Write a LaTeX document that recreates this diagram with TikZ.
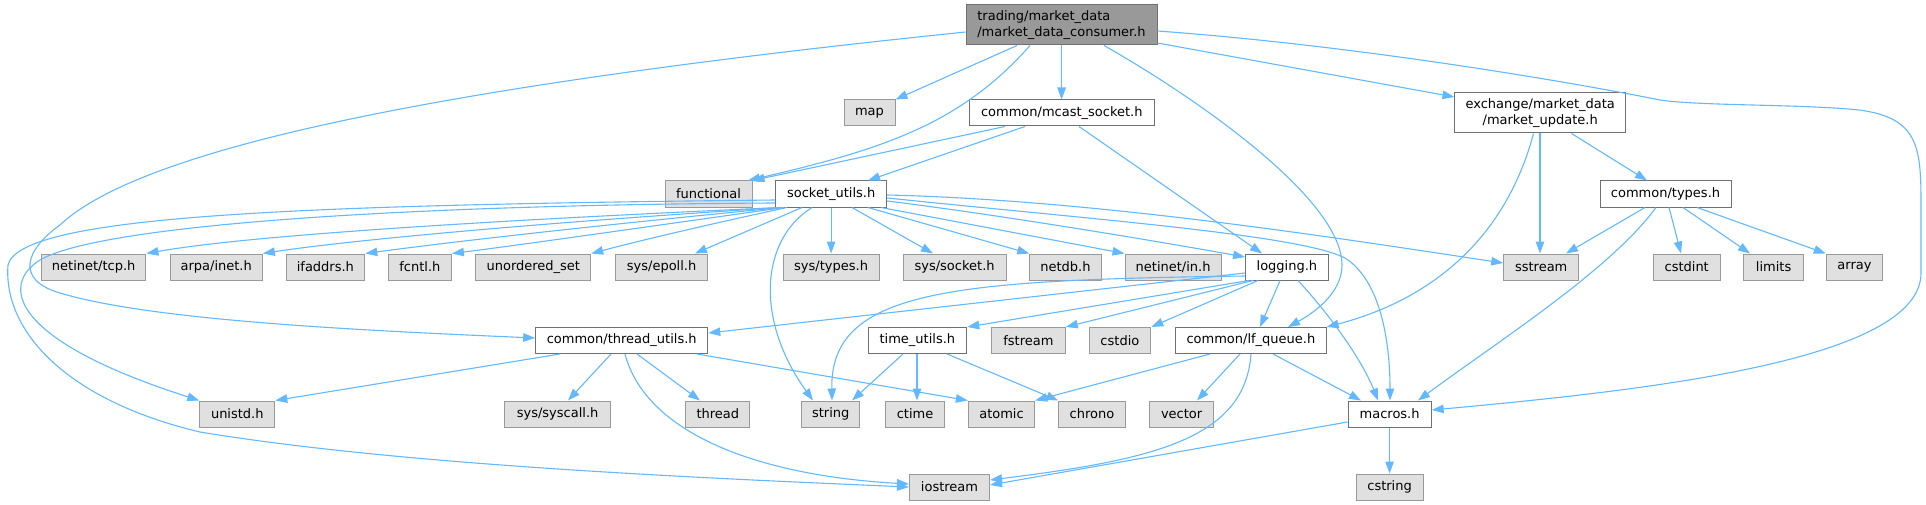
\documentclass[tikz,border=0pt]{standalone}
\usepackage{fontspec}
\setmainfont{DejaVu Sans}
\usetikzlibrary{arrows.meta}
\definecolor{edgec}{HTML}{63B8FF}
\definecolor{extfill}{HTML}{E0E0E0}
\definecolor{extdraw}{HTML}{999999}
\definecolor{docdraw}{HTML}{707070}
\definecolor{rootfill}{HTML}{999999}
\begin{document}
\begin{tikzpicture}[x=1pt,y=-1pt,
  font=\fontsize{13}{15.5}\selectfont,
  doc/.style={draw=docdraw, fill=white, line width=1pt, inner sep=0pt, minimum height=26pt},
  ext/.style={draw=extdraw, fill=extfill, line width=1pt, inner sep=0pt, minimum height=26pt},
  rootbox/.style={draw=docdraw, fill=rootfill, line width=1pt, inner sep=0pt, minimum height=40pt, align=left},
  twoline/.style={draw=docdraw, fill=white, line width=1pt, inner sep=0pt, minimum height=40pt, align=center},
  dep/.style={draw=edgec, line width=1.1pt, -{Triangle[length=12pt,width=8.5pt]}}]
\useasboundingbox (0,0) rectangle (1926,505);
% nodes
\node[rootbox, minimum width=191pt] (root) at (1061.5,25) {trading/market\_data\\/market\_data\_consumer.h};
\node[ext, minimum width=51pt] (map) at (869.5,113) {map};
\node[doc, minimum width=184.4pt] (mcast) at (1061.8,113) {common/mcast\_socket.h};
\node[twoline, minimum width=170.5pt] (mupd) at (1540.2,113) {exchange/market\_data\\/market\_update.h};
\node[ext, minimum width=87pt] (functional) at (708.5,194) {functional};
\node[doc, minimum width=111pt] (sock) at (831.2,194) {socket\_utils.h};
\node[doc, minimum width=131pt] (types) at (1665.5,194) {common/types.h};
% row 267
\node[ext, minimum width=104.4pt] (tcp) at (93.7,267) {netinet/tcp.h};
\node[ext, minimum width=92.4pt] (arpa) at (216.2,267) {arpa/inet.h};
\node[ext, minimum width=78.8pt] (ifaddrs) at (325.4,267) {ifaddrs.h};
\node[ext, minimum width=63pt] (fcntl) at (419.9,267) {fcntl.h};
\node[ext, minimum width=114.8pt] (uset) at (533.3,267) {unordered\_set};
\node[ext, minimum width=92pt] (epoll) at (661.6,267) {sys/epoll.h};
\node[ext, minimum width=96.2pt] (systypes) at (831.1,267) {sys/types.h};
\node[ext, minimum width=102.8pt] (syssocket) at (954.6,267) {sys/socket.h};
\node[ext, minimum width=71.3pt] (netdb) at (1065.4,267) {netdb.h};
\node[ext, minimum width=96.2pt] (netin) at (1173.1,267) {netinet/in.h};
\node[doc, minimum width=82.7pt] (logging) at (1286.9,267) {logging.h};
\node[ext, minimum width=75pt] (sstream) at (1541.2,267) {sstream};
\node[ext, minimum width=66.7pt] (cstdint) at (1686.7,267) {cstdint};
\node[ext, minimum width=59.3pt] (limits) at (1773.6,267) {limits};
\node[ext, minimum width=56.4pt] (array) at (1854.5,267) {array};
% row 340.5
\node[doc, minimum width=172.1pt] (threadu) at (621.7,340.5) {common/thread\_utils.h};
\node[doc, minimum width=98.7pt] (timeu) at (917.4,340.5) {time\_utils.h};
\node[ext, minimum width=73.8pt] (fstream) at (1028.4,340.5) {fstream};
\node[ext, minimum width=61.7pt] (cstdio) at (1119.9,340.5) {cstdio};
\node[doc, minimum width=150.5pt] (lfq) at (1250.9,340.5) {common/lf\_queue.h};
% row 414
\node[ext, minimum width=75pt] (unistd) at (237.3,414) {unistd.h};
\node[ext, minimum width=106.1pt] (syscall) at (557.6,414) {sys/syscall.h};
\node[ext, minimum width=64.3pt] (thread) at (717.8,414) {thread};
\node[ext, minimum width=58pt] (string) at (830.7,414) {string};
\node[ext, minimum width=59.3pt] (ctime) at (915,414) {ctime};
\node[ext, minimum width=66.3pt] (atomic) at (1001.5,414) {atomic};
\node[ext, minimum width=66.7pt] (chrono) at (1092,414) {chrono};
\node[ext, minimum width=63.4pt] (vector) at (1181.6,414) {vector};
\node[doc, minimum width=83.2pt] (macros) at (1389.6,414) {macros.h};
% row 487
\node[ext, minimum width=80pt] (iostream) at (949.5,487) {iostream};
\node[ext, minimum width=66.8pt] (cstring) at (1389.6,487) {cstring};
% edges from root
\draw[dep] (root.south -| 1017,0) -- (map.north east);
\draw[dep] (root.south -| 1030,0) .. controls (960,125) and (880,150) .. (functional.north -| 748,0);
\draw[dep] (root.south -| 1061.6,0) -- (mcast.north -| 1061.6,0);
\draw[dep] (root.south -| 1104,0) .. controls (1200,100) and (1342,200) .. (1342,265) .. controls (1342,295) and (1310,315) .. (lfq.north -| 1288,0);
\draw[dep] (root.east |- 0,43) -- (mupd.west |- 0,97);
\draw[dep] (root.east |- 0,31) .. controls (1350,45) and (1560,80) .. (1660,100) .. controls (1700,106) and (1800,104) .. (1859,110) .. controls (1921,118) and (1921,150) .. (1921,210) -- (1921,273) .. controls (1921,360) and (1650,390) .. (macros.east |- 0,410);
\draw[dep] (root.west |- 0,32) .. controls (500,80) and (150,140) .. (60,225) .. controls (25,250) and (15,280) .. (60,293) .. controls (150,320) and (350,330) .. (threadu.west |- 0,338);
% edges from socket_utils
\draw[dep] (sock.south -| 780,0) .. controls (500,220) and (250,235) .. (tcp.north east);
\draw[dep] (sock.south -| 781,0) .. controls (550,222) and (350,240) .. (arpa.north east);
\draw[dep] (sock.south -| 782,0) .. controls (600,225) and (450,242) .. (ifaddrs.north east);
\draw[dep] (sock.south -| 784,0) .. controls (660,225) and (520,245) .. (fcntl.north east);
\draw[dep] (sock.south -| 787,0) .. controls (720,222) and (650,238) .. (uset.north east);
\draw[dep] (sock.south -| 802,0) -- (epoll.north -| 695,0);
\draw[dep] (sock.south -| 812,0) .. controls (760,240) and (755,320) .. (string.north -| 813,0);
\draw[dep] (sock.south -| 831.1,0) -- (systypes.north -| 831.1,0);
\draw[dep] (sock.south -| 852,0) -- (syssocket.north -| 933,0);
\draw[dep] (sock.south -| 868,0) -- (netdb.north west);
\draw[dep] (sock.south -| 881,0) -- (netin.north west);
\draw[dep] (sock.east |- 0,201) .. controls (1000,215) and (1150,240) .. (logging.west |- 0,257);
\draw[dep] (sock.east |- 0,195) .. controls (1100,200) and (1350,240) .. (sstream.west |- 0,263);
\draw[dep] (sock.east |- 0,198) .. controls (1100,220) and (1300,235) .. (1345,258) .. controls (1380,280) and (1390,340) .. (macros.north -| 1390,0);
\draw[dep] (sock.west |- 0,203) .. controls (400,205) and (100,225) .. (40,260) .. controls (0,285) and (10,340) .. (unistd.north west);
\draw[dep] (sock.west |- 0,200) .. controls (300,205) and (20,215) .. (8,265) .. controls (3,330) and (65,400) .. (200,432) .. controls (400,465) and (700,478) .. (iostream.west |- 0,487);
% edges from mcast_socket
\draw[dep] (mcast.south -| 1005,0) -- (functional.north east);
\draw[dep] (mcast.south -| 1025,0) -- (sock.north -| 868,0);
\draw[dep] (mcast.south -| 1079,0) -- (logging.north -| 1262,0);
% edges from logging
\draw[dep] (logging.west |- 0,276) .. controls (950,280) and (830,290) .. (string.north -| 832,0);
\draw[dep] (logging.west |- 0,273) -- (threadu.east |- 0,333);
\draw[dep] (logging.south -| 1249,0) -- (timeu.north east);
\draw[dep] (logging.south -| 1253,0) -- (fstream.north east);
\draw[dep] (logging.south -| 1258,0) -- (cstdio.north east);
\draw[dep] (logging.south -| 1280,0) -- (lfq.north -| 1260,0);
\draw[dep] (logging.south -| 1298,0) .. controls (1330,315) and (1362,360) .. (macros.north -| 1378,0);
% edges from time_utils
\draw[dep] (timeu.south -| 903,0) -- (string.north -| 852,0);
\draw[dep] (timeu.south -| 917,0) -- (ctime.north -| 917,0);
\draw[dep] (timeu.south -| 947,0) -- (chrono.north west);
% edges from thread_utils
\draw[dep] (threadu.south -| 560,0) -- (unistd.north east);
\draw[dep] (threadu.south -| 611,0) -- (syscall.north -| 568,0);
\draw[dep] (threadu.south -| 637,0) -- (thread.north -| 700,0);
\draw[dep] (threadu.south -| 625,0) .. controls (645,430) and (750,475) .. (iostream.west |- 0,484);
\draw[dep] (threadu.south -| 697,0) -- (atomic.north west);
% edges from lf_queue
\draw[dep] (lfq.south -| 1210,0) -- (atomic.north east);
\draw[dep] (lfq.south -| 1240,0) -- (vector.north -| 1197,0);
\draw[dep] (lfq.south -| 1273,0) -- (macros.north -| 1361,0);
\draw[dep] (lfq.south -| 1251,0) .. controls (1245,440) and (1150,460) .. (iostream.east |- 0,480);
% edges from macros
\draw[dep] (macros.west |- 0,422) -- (iostream.east |- 0,485);
\draw[dep] (macros.south) -- (cstring.north);
% edges from market_update
\draw[dep] (mupd.south -| 1540,0) -- (sstream.north -| 1540,0);
\draw[dep] (mupd.south -| 1533.5,0) .. controls (1505,240) and (1430,300) .. (lfq.north east);
\draw[dep] (mupd.south -| 1571.5,0) -- (types.north -| 1647,0);
% edges from types
\draw[dep] (types.south -| 1645,0) -- (sstream.north -| 1566,0);
\draw[dep] (types.south -| 1656,0) .. controls (1610,270) and (1500,340) .. (macros.north -| 1418,0);
\draw[dep] (types.south -| 1669,0) -- (cstdint.north -| 1681,0);
\draw[dep] (types.south -| 1683,0) -- (limits.north -| 1750,0);
\draw[dep] (types.south -| 1697,0) -- (array.north west);
\end{tikzpicture}
\end{document}
